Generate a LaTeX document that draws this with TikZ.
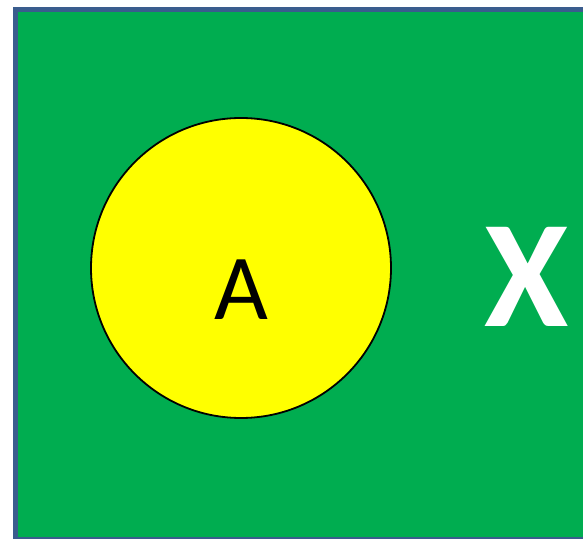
\documentclass[tikz,border=0pt]{standalone}
\usepackage{fontspec}
\setmainfont{Carlito}
\definecolor{bggreen}{HTML}{00AD50}
\definecolor{edgeblue}{HTML}{3A5D8E}
\definecolor{circyellow}{HTML}{FFFF00}
\tikzset{
  panel/.style={fill=bggreen, draw=edgeblue, line width=5pt},
  disc/.style={circle, fill=circyellow, draw=black, line width=1.8pt, minimum size=300pt, inner sep=0pt},
  bigletter/.style={font=\fontsize{93}{93}\selectfont, text=black, inner sep=0pt},
  xletter/.style={font=\fontsize{153}{153}\selectfont\bfseries, text=white, inner sep=0pt}
}
\begin{document}
\begin{tikzpicture}[x=1pt,y=1pt]
\useasboundingbox (0,0) rectangle (583,538);
\begin{scope}
\clip (0,0) rectangle (583,538);
\draw[panel] (15.5,-1.5) rectangle (620,528);
\end{scope}
\node[disc] (a) at (241,270) {};
\node[bigletter] (alabel) at (241,248) {A};
\node[xletter] (x) at (527,261) {X};
\end{tikzpicture}
\end{document}
